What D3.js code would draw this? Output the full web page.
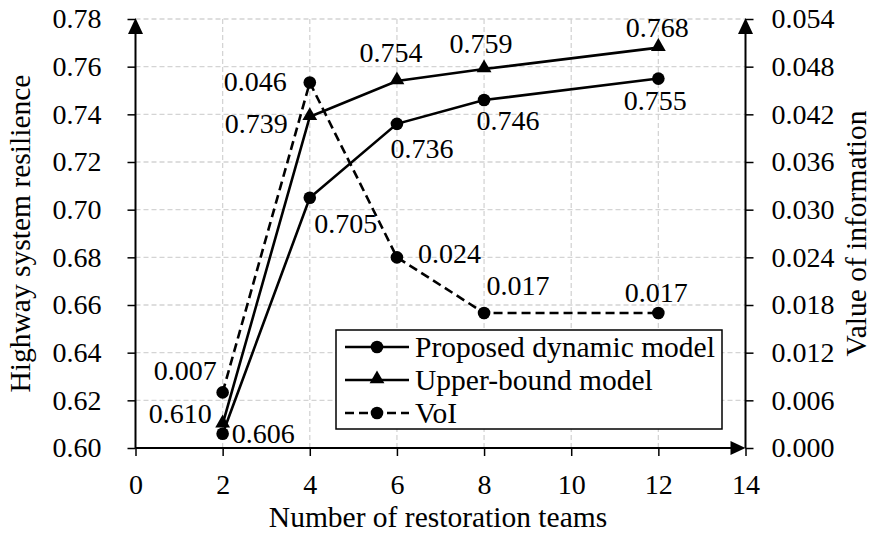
<!DOCTYPE html>
<html>
<head>
<meta charset="utf-8">
<script src="https://cdn.jsdelivr.net/npm/d3@7"></script>
<style>
  html, body { margin: 0; padding: 0; background: #fff; }
  svg { display: block; }
</style>
</head>
<body>
<script>
// ---- Data ----
const teams = [2, 4, 6, 8, 12];
const proposed = [0.606, 0.705, 0.736, 0.746, 0.755];
const upperBound = [0.610, 0.739, 0.754, 0.759, 0.768];
const voi = [0.007, 0.046, 0.024, 0.017, 0.017];
const xTicks = [0, 2, 4, 6, 8, 10, 12, 14];
const yLeftTicks = [0.60, 0.62, 0.64, 0.66, 0.68, 0.70, 0.72, 0.74, 0.76, 0.78];
const yRightTicks = [0.000, 0.006, 0.012, 0.018, 0.024, 0.030, 0.036, 0.042, 0.048, 0.054];
const seriesNames = ["Proposed dynamic model", "Upper-bound model", "VoI"];
const xTitle = "Number of restoration teams";
const yLeftTitle = "Highway system resilience";
const yRightTitle = "Value of information";

const W = 874, H = 535;
const FS = 28;
const FS2 = 29.5;
const FONT = "Liberation Serif";
const svg = d3.select("body").append("svg").attr("width", W).attr("height", H).attr("font-family", FONT);

const x = d3.scaleLinear().domain([0, 14]).range([135.5, 745.5]);
const yL = d3.scaleLinear().domain([0.60, 0.78]).range([448, 19]);
const yR = d3.scaleLinear().domain([0, 0.054]).range([448, 19]);

// ---- Grid ----
const grid = svg.append("g").attr("stroke", "#d4d4d4").attr("stroke-width", 1.3).attr("stroke-dasharray", "5,3");
yLeftTicks.slice(1).forEach(v => {
  grid.append("line").attr("x1", x(0)).attr("x2", x(14)).attr("y1", yL(v)).attr("y2", yL(v));
});
xTicks.filter(v => v > 0 && v < 14).forEach(v => {
  grid.append("line").attr("x1", x(v)).attr("x2", x(v)).attr("y1", yL(0.78)).attr("y2", yL(0.60));
});

// ---- Axes ----
function styleAxis(g) {
  g.attr("font-family", FONT).attr("font-size", FS);
  g.select(".domain").remove();
  g.selectAll(".tick line").attr("stroke", "#000").attr("stroke-width", 1.5);
  g.selectAll(".tick text").attr("font-family", FONT).attr("font-size", FS).attr("fill", "#000");
}
const gL = svg.append("g").attr("transform", `translate(${x(0)},0)`)
  .call(d3.axisLeft(yL).tickValues(yLeftTicks).tickFormat(d3.format(".2f")).tickSize(8));
styleAxis(gL);
gL.selectAll(".tick text").attr("x", -34);

const gR = svg.append("g").attr("transform", `translate(${x(14)},0)`)
  .call(d3.axisRight(yR).tickValues(yRightTicks).tickFormat(d3.format(".3f")).tickSize(8));
styleAxis(gR);
gR.selectAll(".tick text").attr("x", 26);

const gB = svg.append("g").attr("transform", `translate(0,${yL(0.60)})`)
  .call(d3.axisBottom(x).tickValues(xTicks).tickFormat(d3.format("d")).tickSize(8));
styleAxis(gB);
gB.selectAll(".tick text").attr("y", 26);

// axis lines with arrows
const ax = svg.append("g").attr("stroke", "#000").attr("stroke-width", 2);
ax.append("line").attr("x1", x(0)).attr("x2", x(0)).attr("y1", yL(0.60)).attr("y2", yL(0.78) + 4);
ax.append("line").attr("x1", x(14)).attr("x2", x(14)).attr("y1", yL(0.60)).attr("y2", yL(0.78) + 4);
ax.append("line").attr("x1", x(0)).attr("x2", x(14) - 4).attr("y1", yL(0.60)).attr("y2", yL(0.60));
function arrowUp(cx, tipY) {
  svg.append("path").attr("d", `M${cx},${tipY} L${cx - 7.5},${tipY + 16} L${cx + 7.5},${tipY + 16} Z`).attr("fill", "#000");
}
arrowUp(x(0), yL(0.78) - 1);
arrowUp(x(14), yL(0.78) - 1);
svg.append("path").attr("d", `M${x(14)},${yL(0.60)} L${x(14) - 15},${yL(0.60) - 7} L${x(14) - 15},${yL(0.60) + 7} Z`).attr("fill", "#000");

// ---- Series ----
const lineL = d3.line().x((d, i) => x(teams[i])).y(d => yL(d));
const lineR = d3.line().x((d, i) => x(teams[i])).y(d => yR(d));
const tri = d3.symbol().type(d3.symbolTriangle).size(95);

svg.append("path").datum(proposed).attr("d", lineL).attr("fill", "none").attr("stroke", "#000").attr("stroke-width", 2.6);
svg.append("path").datum(upperBound).attr("d", lineL).attr("fill", "none").attr("stroke", "#000").attr("stroke-width", 2.6);
svg.append("path").datum(voi).attr("d", lineR).attr("fill", "none").attr("stroke", "#000").attr("stroke-width", 2.6).attr("stroke-dasharray", "9,5");

svg.selectAll(".mp").data(proposed).enter().append("circle")
  .attr("cx", (d, i) => x(teams[i])).attr("cy", d => yL(d)).attr("r", 6.3).attr("fill", "#000");
svg.selectAll(".mu").data(upperBound).enter().append("path")
  .attr("d", tri).attr("transform", (d, i) => `translate(${x(teams[i])},${yL(d) - 1})`).attr("fill", "#000");
svg.selectAll(".mv").data(voi).enter().append("circle")
  .attr("cx", (d, i) => x(teams[i])).attr("cy", d => yR(d)).attr("r", 6.3).attr("fill", "#000");

// ---- Data labels ----
const pOff = [["start", 9, 9], ["middle", 36, 35], ["middle", 25, 34], ["middle", 24, 30], ["middle", -3, 31]];
const uOff = [["end", -11, -1], ["end", -22, 16], ["middle", -6, -19], ["middle", -3, -16], ["middle", -1, -11]];
const vOff = [["end", -6, -12], ["end", -23, 8], ["start", 21, 6], ["middle", 34, -18], ["middle", -2, -11]];
function labels(vals, scale, offs, fmt) {
  vals.forEach((v, i) => {
    svg.append("text").attr("x", x(teams[i]) + offs[i][1]).attr("y", scale(v) + offs[i][2])
      .attr("text-anchor", offs[i][0]).attr("font-family", FONT).attr("font-size", FS).text(d3.format(fmt)(v));
  });
}
labels(proposed, yL, pOff, ".3f");
labels(upperBound, yL, uOff, ".3f");
labels(voi, yR, vOff, ".3f");

// ---- Legend ----
const lg = svg.append("g");
lg.append("rect").attr("x", 336).attr("y", 330).attr("width", 386).attr("height", 99)
  .attr("fill", "#fff").attr("stroke", "#000").attr("stroke-width", 1.5);
const rows = [347, 380, 413];
seriesNames.forEach((name, i) => {
  const ln = lg.append("line").attr("x1", 345).attr("x2", 409).attr("y1", rows[i]).attr("y2", rows[i])
    .attr("stroke", "#000").attr("stroke-width", 2.6);
  if (i === 2) ln.attr("stroke-dasharray", "9,5");
  if (i === 1) lg.append("path").attr("d", tri).attr("transform", `translate(377,${rows[i] - 1})`).attr("fill", "#000");
  else lg.append("circle").attr("cx", 377).attr("cy", rows[i]).attr("r", 6.3).attr("fill", "#000");
  lg.append("text").attr("x", 415).attr("y", rows[i] + 10).attr("font-family", FONT).attr("font-size", FS2).text(name);
});

// ---- Axis titles ----
svg.append("text").attr("x", 438).attr("y", 527).attr("text-anchor", "middle").attr("font-family", FONT).attr("font-size", FS2).text(xTitle);
svg.append("text").attr("transform", `translate(30,${yL(0.69)}) rotate(-90)`).attr("text-anchor", "middle")
  .attr("font-family", FONT).attr("font-size", FS2).text(yLeftTitle);
svg.append("text").attr("transform", `translate(866,${yL(0.69)}) rotate(-90)`).attr("text-anchor", "middle")
  .attr("font-family", FONT).attr("font-size", FS2).text(yRightTitle);
</script>
</body>
</html>
